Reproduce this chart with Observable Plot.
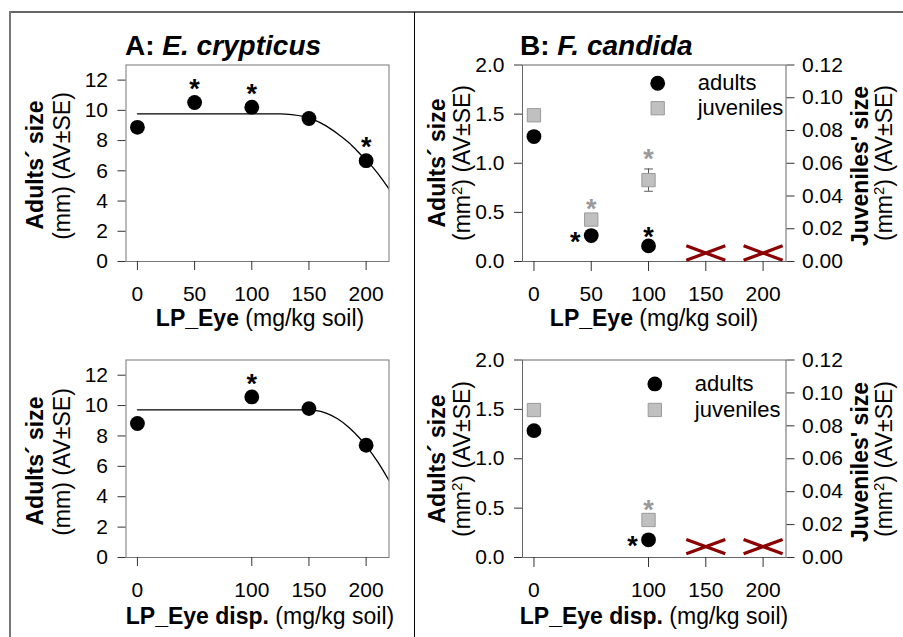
<!DOCTYPE html>
<html><head><meta charset="utf-8">
<script src="https://cdn.jsdelivr.net/npm/d3@7"></script>
<script src="https://cdn.jsdelivr.net/npm/@observablehq/plot@0.6"></script>
<style>
body{margin:0;background:#fff;}
#wrap{position:relative;width:903px;height:637px;overflow:hidden;background:#fff;}
.ln{position:absolute;}
</style></head><body><div id="wrap"></div>
<script>
// ---------- data ----------
const xTicksLP = [0, 50, 100, 150, 200];
const xTicksDisp = [0, 100, 150, 200];
const yTicksA = [0, 2, 4, 6, 8, 10, 12];
const yTicksB = [0, 0.5, 1.0, 1.5, 2.0];
const yTicksJuv = [0, 0.02, 0.04, 0.06, 0.08, 0.10, 0.12];

// Panel A, LP_Eye (E. crypticus adults size, mm)
const concLP = [0, 50, 100, 150, 200];
const crypticusLP = [8.88, 10.52, 10.21, 9.46, 6.67];
const crypticusLPSig = [false, true, true, false, true];
const fitLPx = [0, 125, 135, 145, 155, 165, 175, 185, 195, 200, 210, 220];
const fitLPy = [9.77, 9.77, 9.72, 9.6, 9.35, 8.97, 8.45, 7.85, 7.1, 6.72, 5.85, 4.8];

// Panel A, LP_Eye disp.
const concDisp = [0, 100, 150, 200];
const crypticusDisp = [8.82, 10.57, 9.8, 7.39];
const crypticusDispSig = [false, true, false, false];
const fitDispx = [0, 150, 155, 165, 175, 185, 195, 200, 210, 220];
const fitDispy = [9.72, 9.72, 9.69, 9.51, 9.13, 8.56, 7.8, 7.35, 6.31, 5.07];

// Panel B, LP_Eye (F. candida, mm2)
const candidaLPConc = [0, 50, 100];
const candidaLPAdults = [1.272, 0.264, 0.159];
const candidaLPAdultsSig = ["", "left", "above"];
const candidaLPJuv = [0.0893, 0.0256, 0.0497];
const candidaLPJuvSE = [0, 0, 0.0068];
const candidaLPJuvSig = ["", "above", "above"];
const candidaLPDeadConc = [150, 200];
const candidaLPDeadLevel = [0.086, 0.086];

// Panel B, LP_Eye disp.
const candidaDispConc = [0, 100];
const candidaDispAdults = [1.284, 0.179];
const candidaDispAdultsSig = ["", "left"];
const candidaDispJuv = [0.0896, 0.0228];
const candidaDispJuvSig = ["", "above"];
const candidaDispDeadConc = [150, 200];
const candidaDispDeadLevel = [0.11, 0.11];

const legendLabels = ["adults", "juveniles"];

// ---------- setup ----------
const W = 903, H = 637;
const FONT = "'Liberation Sans', Arial, sans-serif";
const X_DOMAIN = [-10, 220];
const JUV_K = 0.12 / 2.0; // right axis units per left axis unit
const STAR = 27;
const wrap = document.getElementById("wrap");

function line(l, t, w, h, c) {
  const d = document.createElement("div");
  d.className = "ln";
  Object.assign(d.style, {left: l + "px", top: t + "px", width: w + "px", height: h + "px", background: c});
  wrap.appendChild(d);
}
line(10, 11, 893, 2, "#666");
line(9, 11, 2, 626, "#777");
line(414, 12, 1, 625, "#000");

function place(svg) {
  svg.style.position = "absolute"; svg.style.left = "0px"; svg.style.top = "0px";
  wrap.appendChild(svg);
  return svg;
}
function opts(l, r, t, b, ydom, marks) {
  return {
    width: W, height: H,
    marginLeft: l, marginRight: W - r, marginTop: t, marginBottom: H - b,
    x: {domain: X_DOMAIN}, y: {domain: ydom},
    style: {fontFamily: FONT, fontSize: "21px", color: "#000", background: "transparent", overflow: "visible"},
    marks
  };
}
function addLabel(svg, {x, y, rotate = 0, anchor = "middle", size = 23, parts}) {
  const t = d3.select(svg).append("text")
    .attr("transform", `translate(${x},${y}) rotate(${rotate})`)
    .attr("text-anchor", anchor).attr("font-size", size)
    .attr("font-family", FONT).attr("fill", "#000");
  let raised = false;
  for (const p of parts) {
    const s = t.append("tspan").text(p.t);
    if (p.bold) s.attr("font-weight", "bold");
    if (p.italic) s.attr("font-style", "italic");
    if (p.sup) { s.attr("font-size", size * 0.65).attr("dy", -8); raised = true; }
    else if (raised) { s.attr("dy", 8); raised = false; }
  }
}
const crossWide = {
  draw(ctx, size) {
    const r = Math.sqrt(size / Math.PI);
    const w = r * 1.95, h = r * 0.72;
    ctx.moveTo(-w, -h); ctx.lineTo(w, h);
    ctx.moveTo(-w, h); ctx.lineTo(w, -h);
  }
};
const capSym = {
  draw(ctx, size) {
    const r = Math.sqrt(size / Math.PI);
    ctx.moveTo(-r, 0); ctx.lineTo(r, 0);
  }
};

const AXC = "#333";
function axesA(xt) {
  return [
    Plot.frame({stroke: "#777"}),
    Plot.axisX({ticks: xt, tickFormat: d => String(d), tickSize: 9, tickPadding: 16, label: null, stroke: AXC, fontSize: 21}),
    Plot.axisY({ticks: yTicksA, tickFormat: d => String(d), tickSize: 8, tickPadding: 10, label: null, stroke: AXC, fontSize: 21})
  ];
}
function axesB(xt) {
  return [
    Plot.frame({stroke: "#666"}),
    Plot.axisX({ticks: xt, tickFormat: d => String(d), tickSize: 10, tickPadding: 15, label: null, stroke: AXC, fontSize: 21}),
    Plot.axisY({ticks: yTicksB, tickFormat: d => d.toFixed(1), tickSize: 8, tickPadding: 10, label: null, stroke: AXC, fontSize: 21}),
    Plot.axisY({anchor: "right", ticks: yTicksJuv.map(v => v / JUV_K), tickFormat: d => (d * JUV_K).toFixed(2), tickSize: 8, tickPadding: 8, label: null, stroke: AXC, fontSize: 21})
  ];
}

// ---------- Panel A ----------
function panelA(conc, vals, sig, fx, fy, frameT, frameB, xt) {
  const rows = conc.map((c, i) => ({x: c, y: vals[i], sig: sig[i]}));
  const fit = fx.map((x, i) => ({x, y: fy[i]}));
  return place(Plot.plot(opts(125.5, 388.5, frameT, frameB, [0, 13], [
    ...axesA(xt),
    Plot.line(fit, {x: "x", y: "y", curve: "monotone-x", stroke: "#000", strokeWidth: 1.3, clip: true}),
    Plot.dot(rows, {x: "x", y: "y", r: 7.4, fill: "#000"}),
    Plot.text(rows.filter(d => d.sig), {x: "x", y: "y", text: () => "*", dy: -13, fontSize: STAR, fontWeight: "bold", fill: "#000"})
  ])));
}
const svgA1 = panelA(concLP, crypticusLP, crypticusLPSig, fitLPx, fitLPy, 64.5, 261, xTicksLP);
const svgA2 = panelA(concDisp, crypticusDisp, crypticusDispSig, fitDispx, fitDispy, 359.5, 557, xTicksDisp);

// ---------- Panel B ----------
function panelB(conc, adults, aSig, juv, juvSE, jSig, deadConc, deadLevel, frameT, frameB, xt, leg) {
  const rows = conc.map((c, i) => ({x: c, a: adults[i], aSig: aSig[i], j: juv[i] / JUV_K, se: (juvSE ? juvSE[i] : 0) / JUV_K, jSig: jSig[i]}));
  const errs = rows.filter(d => d.se > 0);
  const dead = deadConc.map((c, i) => ({x: c, y: deadLevel[i]}));
  const legRows = legendLabels.map((t, i) => ({t, x: leg.x, y: leg.y[i], i}));
  return place(Plot.plot(opts(522, 785.5, frameT, frameB, [0, 2], [
    ...axesB(xt),
    Plot.ruleX(errs, {x: "x", y1: d => d.j - d.se, y2: d => d.j + d.se, stroke: "#555", strokeWidth: 1}),
    Plot.dot(errs, {x: "x", y: d => d.j - d.se, symbol: capSym, r: 4.3, stroke: "#555", fill: "none", strokeWidth: 1}),
    Plot.dot(errs, {x: "x", y: d => d.j + d.se, symbol: capSym, r: 4.3, stroke: "#555", fill: "none", strokeWidth: 1}),
    Plot.dot(rows, {x: "x", y: "j", symbol: "square", r: 7.5, fill: "#c0c0c0", stroke: "#9a9a9a", strokeWidth: 1}),
    Plot.dot(rows, {x: "x", y: "a", r: 7.4, fill: "#000"}),
    Plot.dot(dead, {x: "x", y: "y", symbol: crossWide, r: 10, stroke: "#8b0000", fill: "none", strokeWidth: 3.2}),
    Plot.text(rows.filter(d => d.jSig === "above"), {x: "x", y: d => d.j + d.se, text: () => "*", fontSize: STAR, fontWeight: "bold", fill: "#999", dy: -10}),
    Plot.text(rows.filter(d => d.aSig === "above"), {x: "x", y: "a", text: () => "*", fontSize: STAR, fontWeight: "bold", fill: "#000", dy: -8.5}),
    Plot.text(rows.filter(d => d.aSig === "left"), {x: "x", y: "a", text: () => "*", fontSize: STAR, fontWeight: "bold", fill: "#000", dx: -16, dy: 7}),
    // legend
    Plot.dot(legRows.filter(d => d.i === 0), {x: "x", y: "y", r: 7.4, fill: "#000"}),
    Plot.dot(legRows.filter(d => d.i === 1), {x: "x", y: "y", symbol: "square", r: 7.5, fill: "#c0c0c0", stroke: "#9a9a9a", strokeWidth: 1}),
    Plot.text(legRows, {x: "x", y: "y", text: "t", textAnchor: "start", dx: 40, fontSize: 22, fill: "#000"})
  ])));
}
const svgB1 = panelB(candidaLPConc, candidaLPAdults, candidaLPAdultsSig, candidaLPJuv, candidaLPJuvSE, candidaLPJuvSig,
  candidaLPDeadConc, candidaLPDeadLevel, 64.5, 261, xTicksLP, {x: 108, y: [1.814, 1.56]});
const svgB2 = panelB(candidaDispConc, candidaDispAdults, candidaDispAdultsSig, candidaDispJuv, null, candidaDispJuvSig,
  candidaDispDeadConc, candidaDispDeadLevel, 359.5, 557, xTicksDisp, {x: 105.5, y: [1.758, 1.494]});

// ---------- titles ----------
addLabel(svgA1, {x: 125, y: 55, anchor: "start", size: 28, parts: [{t: "A: ", bold: true}, {t: "E. crypticus", bold: true, italic: true}]});
addLabel(svgB1, {x: 520, y: 55, anchor: "start", size: 28, parts: [{t: "B: ", bold: true}, {t: "F. candida", bold: true, italic: true}]});

const dy2 = 296;
for (const [svg, off, xl] of [[svgA1, 0, "LP_Eye"], [svgA2, dy2, "LP_Eye disp."]]) {
  addLabel(svg, {x: 43, y: 165 + off, rotate: -90, parts: [{t: "Adults´ size", bold: true}]});
  addLabel(svg, {x: 70, y: 166 + off, rotate: -90, parts: [{t: "(mm) (AV±SE)"}]});
  addLabel(svg, {x: 260, y: off ? 624 : 326, parts: [{t: xl, bold: true}, {t: " (mg/kg soil)"}]});
}
for (const [svg, off, xl] of [[svgB1, 0, "LP_Eye"], [svgB2, dy2, "LP_Eye disp."]]) {
  addLabel(svg, {x: 445, y: 163 + off, rotate: -90, parts: [{t: "Adults´ size", bold: true}]});
  addLabel(svg, {x: 470, y: 163 + off, rotate: -90, parts: [{t: "(mm"}, {t: "2", sup: true}, {t: ") (AV±SE)"}]});
  addLabel(svg, {x: 868, y: 166 + off, rotate: -90, parts: [{t: "Juveniles' size", bold: true}]});
  addLabel(svg, {x: 892, y: 163 + off, rotate: -90, parts: [{t: "(mm"}, {t: "2", sup: true}, {t: ") (AV±SE)"}]});
  addLabel(svg, {x: 654, y: off ? 624 : 326, parts: [{t: xl, bold: true}, {t: " (mg/kg soil)"}]});
}
</script></body></html>
